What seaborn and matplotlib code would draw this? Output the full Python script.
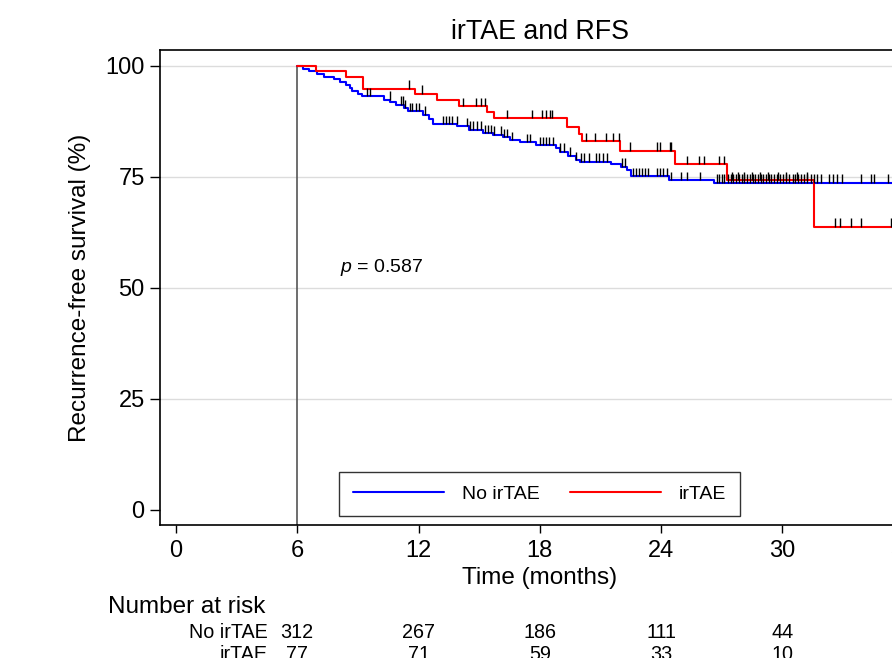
import numpy as np
import pandas as pd
import matplotlib
matplotlib.use('Agg')
from matplotlib import pyplot as plt
from matplotlib import transforms
from matplotlib.lines import Line2D
import seaborn as sns

# step points of the Kaplan-Meier curves (months, % free of recurrence)
blue_time = [6, 6.3, 6.6, 7.0, 7.3, 7.8, 8.1, 8.4, 8.6, 8.7, 9.0, 9.2, 10.3, 10.6,
             10.9, 11.3, 11.5, 12.2, 12.5, 12.7, 13.9, 14.5, 15.2, 15.7, 16.2, 16.5,
             17.0, 17.8, 18.8, 19.0, 19.4, 19.8, 20.0, 21.5, 22.0, 22.3, 22.5, 24.4,
             26.6, 38]
blue_surv = [100, 99.4, 98.8, 98.2, 97.6, 97.0, 96.5, 95.8, 95.0, 94.3, 93.6, 93.2,
             92.4, 91.8, 91.3, 90.5, 89.8, 89.0, 88.0, 86.9, 86.4, 85.6, 84.9, 84.5,
             83.9, 83.3, 82.8, 82.2, 81.5, 80.7, 79.8, 78.8, 78.4, 78.0, 77.3, 76.5,
             75.2, 74.3, 73.7, 73.7]
red_time = [6, 6.92, 8.39, 9.27, 11.84, 12.9, 13.98, 15.4, 15.73, 19.35, 19.95,
            20.11, 21.99, 24.68, 27.27, 31.55, 38]
red_surv = [100, 98.8, 97.5, 94.9, 93.8, 92.3, 90.9, 89.6, 88.2, 86.3, 84.6, 83.0,
            80.9, 77.9, 74.3, 63.8, 63.8]

# censoring times
blue_cens = [9.47, 9.6, 10.58, 11.15, 11.25, 11.35, 11.6, 11.7, 11.85, 12.0, 12.3,
             13.2, 13.35, 13.5, 13.65, 13.88, 14.4, 14.55, 14.7, 14.87, 15.1, 15.3,
             15.45, 15.6, 15.75, 16.1, 16.25, 16.4, 16.6, 17.35, 17.5, 18.0, 18.15,
             18.3, 18.45, 18.65, 19.0, 19.2, 19.5, 19.8, 20.05, 20.2, 20.45, 20.8,
             20.95, 21.15, 21.3, 22.05, 22.2, 22.6, 22.75, 22.9, 23.05, 23.2, 23.35,
             23.8, 23.95, 24.1, 24.3, 24.5, 25.0, 25.3, 25.9, 26.75, 26.85, 27.0,
             27.1, 27.3, 27.45, 27.55, 27.7, 27.85, 28.0, 28.1, 28.25, 28.4, 28.55,
             28.65, 28.8, 28.95, 29.05, 29.2, 29.35, 29.45, 29.6, 29.75, 29.9, 30.05,
             30.2, 30.35, 30.5, 30.6, 30.75, 30.9, 31.05, 31.2, 31.4, 31.55, 31.7,
             31.9, 32.3, 32.5, 32.7, 32.95, 33.9, 34.4, 34.55, 35.2]
red_cens = [11.54, 12.18, 14.18, 14.82, 15.07, 15.27, 16.39, 17.59, 18.11, 18.33,
            18.5, 18.6, 20.28, 20.72, 21.27, 21.6, 21.92, 22.45, 23.82, 23.94, 24.43,
            24.5, 25.26, 25.88, 26.13, 26.87, 27.12, 27.5, 27.8, 28.1, 28.5, 28.9,
            29.3, 29.8, 30.2, 30.7, 31.2, 32.6, 32.84, 33.38, 33.88, 35.36]

groups = ['No irTAE', 'irTAE']
colors = ['blue', 'red']
risk_times = [6, 12, 18, 24, 30]
risk_no = [312, 267, 186, 111, 44]
risk_yes = [77, 71, 59, 33, 10]
x_ticks = [0, 6, 12, 18, 24, 30, 36]
y_ticks = [0, 25, 50, 75, 100]

sns.set_style('white')
plt.rcParams['font.family'] = ['Liberation Sans', 'DejaVu Sans']
plt.rcParams['mathtext.fontset'] = 'custom'
plt.rcParams['mathtext.it'] = 'Liberation Sans:italic'
plt.rcParams['mathtext.rm'] = 'Liberation Sans'
for k in ['text.color', 'axes.labelcolor', 'xtick.color', 'ytick.color']:
    plt.rcParams[k] = 'black'

df = pd.concat([
    pd.DataFrame({'time': blue_time, 'surv': blue_surv, 'group': groups[0]}),
    pd.DataFrame({'time': red_time, 'surv': red_surv, 'group': groups[1]}),
])

fig = plt.figure(figsize=(8.92, 6.58), dpi=100)
ax = fig.add_axes([160 / 892, 1 - 525 / 658, 774 / 892, 475 / 658])
ax.set_xlim(-0.79, 37.5)
ax.set_ylim(-3.38, 103.6)

# grid lines
ax.hlines([25, 50, 75, 100], -0.79, 37.5, color='#dcdcdc', lw=1, zorder=0)
# line at start of follow-up
ax.vlines(6, -3.38, 100, color='#555555', lw=1.2, zorder=1)

sns.lineplot(data=df, x='time', y='surv', hue='group', hue_order=groups,
             palette=dict(zip(groups, colors)), drawstyle='steps-post',
             estimator=None, sort=False, legend=False, lw=1.5, ax=ax, zorder=2)
ax.set_xlabel('')
ax.set_ylabel('')


def surv_at(times, steps_t, steps_s):
    idx = np.searchsorted(np.array(steps_t), np.array(times), side='right') - 1
    return np.array(steps_s)[idx]


for cens, st, ss in [(blue_cens, blue_time, blue_surv), (red_cens, red_time, red_surv)]:
    lev = surv_at(cens, st, ss)
    ax.vlines(cens, lev, lev + 1.9, color='black', lw=1.0, zorder=3)

ax.set_xticks(x_ticks)
ax.set_yticks(y_ticks)
ax.tick_params(axis='x', direction='out', length=6, width=1, pad=5, labelsize=17, bottom=True)
ax.tick_params(axis='y', direction='out', length=7, width=1, pad=4, labelsize=17, left=True)
for s in ['left', 'top', 'bottom']:
    ax.spines[s].set_color('black')
    ax.spines[s].set_linewidth(1.2)

fig.text(540 / 892, 1 - 578 / 658, 'Time (months)', fontsize=17.5, ha='center', va='center')
fig.text(80 / 892, 1 - 288 / 658, 'Recurrence-free survival (%)', fontsize=17.5,
         rotation=90, ha='center', va='center')
fig.text(540 / 892, 1 - 32 / 658, 'irTAE and RFS', fontsize=19.3, ha='center', va='center')

ax.text(8.1, 54.7, r'$p$ = 0.587', fontsize=14, va='center', ha='left')

handles = [Line2D([], [], color=c, lw=1.5) for c in colors]
leg = ax.legend(handles, groups, loc='center', bbox_to_anchor=(539.5 / 892, 1 - 494 / 658),
                bbox_transform=fig.transFigure, ncol=2, fontsize=14, frameon=True,
                fancybox=False, handlelength=4.7, handletextpad=0.9, columnspacing=1.55,
                borderpad=0.7)
leg.get_frame().set_edgecolor('black')
leg.get_frame().set_linewidth(1)

# number at risk table
fig.text(108 / 892, 1 - 607 / 658, 'Number at risk', fontsize=17.5, ha='left', va='center')
trans = transforms.blended_transform_factory(ax.transData, fig.transFigure)
for yy, lab, vals in [(633, groups[0], risk_no), (655, groups[1], risk_yes)]:
    fig.text(268 / 892, 1 - yy / 658, lab, fontsize=14.2, ha='right', va='center')
    for t, v in zip(risk_times, vals):
        ax.text(t, 1 - yy / 658, str(v), transform=trans, fontsize=14.2,
                ha='center', va='center', clip_on=False)

fig.savefig('out.png', dpi=100)
